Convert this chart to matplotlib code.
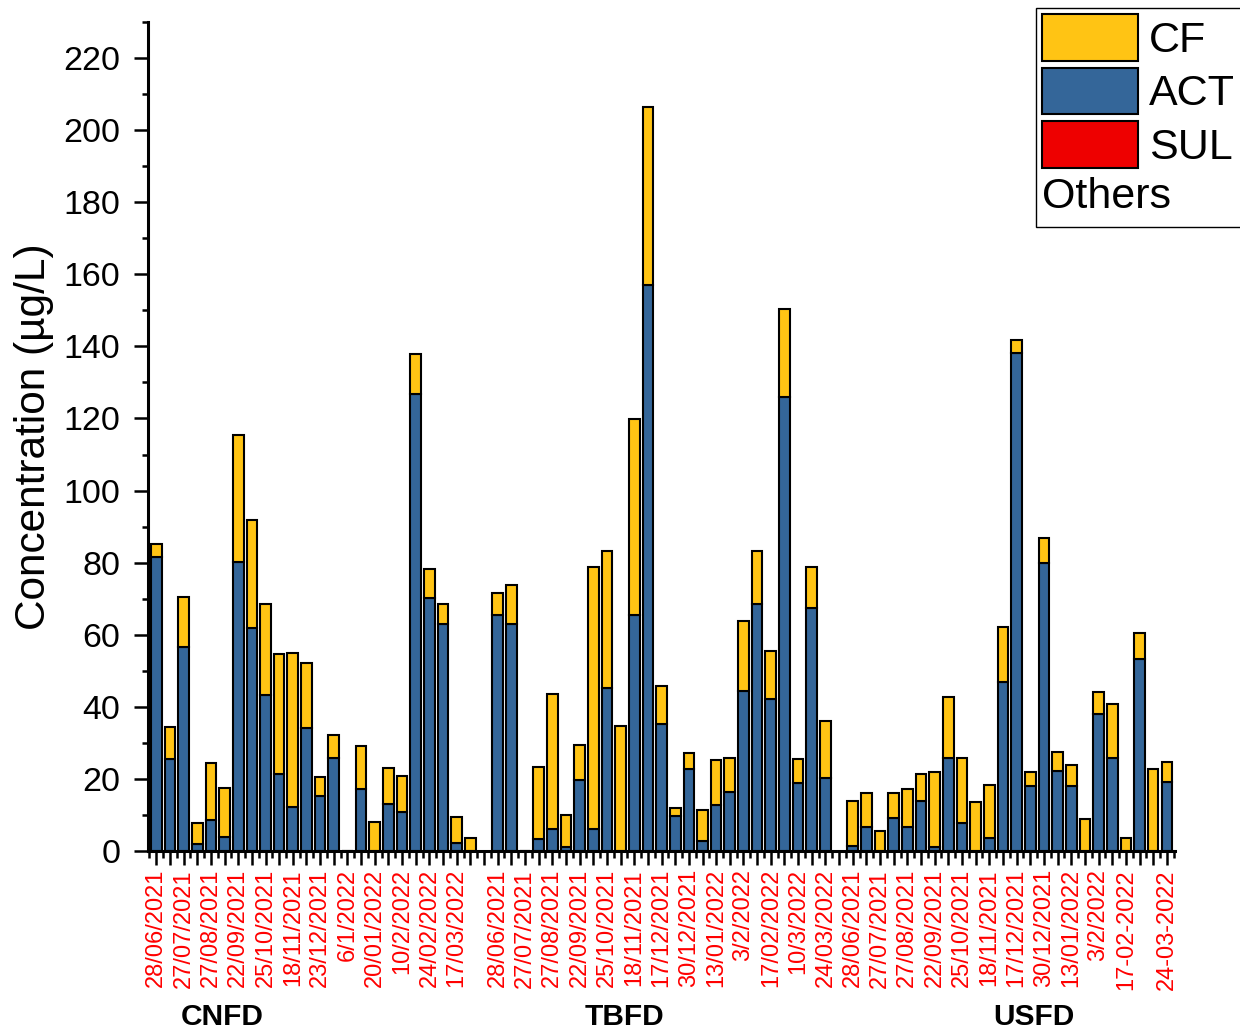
import numpy as np
import matplotlib
matplotlib.use("Agg")
import matplotlib.pyplot as plt
from matplotlib.patches import Patch
from matplotlib.legend_handler import HandlerBase
from matplotlib.text import Text
from matplotlib.ticker import MultipleLocator
from matplotlib.transforms import blended_transform_factory

plt.rcParams["font.family"] = ["Liberation Sans", "DejaVu Sans"]

# --- data (µg/L) ---
groups = ["CNFD", "TBFD", "USFD"]

cnfd_act = [81.7, 25.5, 56.5, 1.8, 8.6, 4.0, 80.2, 61.9, 43.2, 21.4, 12.1, 34.1,
            15.3, 25.7, 0.0, 17.2, 0.0, 12.9, 10.7, 126.9, 70.2, 63.0, 2.3, 0.0]
cnfd_cf = [3.6, 9.0, 13.9, 6.1, 15.7, 13.6, 35.2, 29.8, 25.2, 33.3, 42.8, 18.0,
           5.3, 6.5, 0.0, 11.8, 8.1, 10.0, 10.2, 10.9, 8.1, 5.6, 7.2, 3.5]

tbfd_act = [65.5, 62.9, 0.0, 3.4, 6.0, 1.1, 19.6, 6.0, 45.3, 0.0, 65.5, 156.9,
            35.2, 9.8, 22.8, 2.9, 12.8, 16.4, 44.3, 68.5, 42.3, 125.9, 18.8, 67.5, 20.2]
tbfd_cf = [6.0, 10.9, 0.0, 19.8, 37.5, 9.0, 9.7, 72.8, 37.8, 34.6, 54.3, 49.5,
           10.5, 2.2, 4.5, 8.4, 12.4, 9.4, 19.4, 14.6, 13.2, 24.5, 6.6, 11.3, 15.9]

usfd_act = [1.3, 6.7, 0.0, 9.2, 6.6, 13.9, 1.1, 25.8, 7.9, 0.0, 3.5, 46.9,
            138.1, 18.0, 79.9, 22.2, 18.1, 0.0, 38.0, 25.7, 0.0, 53.4, 0.0, 19.2]
usfd_cf = [12.6, 9.3, 5.6, 6.9, 10.6, 7.4, 20.8, 16.8, 17.8, 13.7, 14.7, 15.2,
           3.6, 3.9, 6.8, 5.4, 5.7, 8.9, 6.2, 15.2, 3.5, 7.0, 22.7, 5.5]

# sampling dates shown under the bars (index in group -> label)
cnfd_dates = {0: "28/06/2021", 2: "27/07/2021", 4: "27/08/2021", 6: "22/09/2021",
              8: "25/10/2021", 10: "18/11/2021", 12: "23/12/2021", 14: "6/1/2022",
              16: "20/01/2022", 18: "10/2/2022", 20: "24/02/2022", 22: "17/03/2022"}
tbfd_dates = {0: "28/06/2021", 2: "27/07/2021", 4: "27/08/2021", 6: "22/09/2021",
              8: "25/10/2021", 10: "18/11/2021", 12: "17/12/2021", 14: "30/12/2021",
              16: "13/01/2022", 18: "3/2/2022", 20: "17/02/2022", 22: "10/3/2022",
              24: "24/03/2022"}
usfd_dates = {0: "28/06/2021", 2: "27/07/2021", 4: "27/08/2021", 6: "22/09/2021",
              8: "25/10/2021", 10: "18/11/2021", 12: "17/12/2021", 14: "30/12/2021",
              16: "13/01/2022", 18: "3/2/2022", 20: "17-02-2022", 23: "24-03-2022"}

# position of the group name under the axis (in bar slots)
group_label_x = [4.8, 34.3, 64.3]

COLOR_CF = "#FFC414"
COLOR_ACT = "#346699"
COLOR_SUL = "#EE0000"


class TextHandle:
    def __init__(self, text):
        self.text = text


class HandlerTextOnly(HandlerBase):
    def create_artists(self, legend, orig_handle, xdescent, ydescent,
                       width, height, fontsize, trans):
        t = Text(-xdescent, -ydescent + height / 2, orig_handle.text,
                 fontsize=fontsize, va="center", ha="left", transform=trans)
        return [t]


def build_slots():
    acts, cfs = [], []
    x, tick_x, tick_labels = [], [], []
    pos = 0
    for act, cf, date_map in [(cnfd_act, cnfd_cf, cnfd_dates),
                              (tbfd_act, tbfd_cf, tbfd_dates),
                              (usfd_act, usfd_cf, usfd_dates)]:
        for i in range(len(act)):
            x.append(pos)
            acts.append(act[i])
            cfs.append(cf[i])
            tick_x.append(pos)
            tick_labels.append(date_map.get(i, ""))
            pos += 1
        # empty slot between groups
        tick_x.append(pos)
        tick_labels.append("")
        pos += 1
    return np.array(x), np.array(acts), np.array(cfs), tick_x[:-1], tick_labels[:-1]


def main():
    x, act, cf, tick_x, tick_labels = build_slots()

    fig = plt.figure(figsize=(12.4, 10.32), dpi=100)
    ax = fig.add_axes([0.1194, 0.1754, 0.8282, 0.8033])

    ax.bar(x, act, width=0.78, color=COLOR_ACT, edgecolor="black", linewidth=1.5)
    ax.bar(x, cf, width=0.78, bottom=act, color=COLOR_CF, edgecolor="black", linewidth=1.5)

    ax.set_xlim(-0.6, x.max() + 0.6)
    ax.set_ylim(0, 230)

    ax.spines["top"].set_visible(False)
    ax.spines["right"].set_visible(False)
    ax.spines["left"].set_linewidth(2.2)
    ax.spines["bottom"].set_linewidth(2.2)

    ax.yaxis.set_major_locator(MultipleLocator(20))
    ax.yaxis.set_minor_locator(MultipleLocator(10))
    ax.tick_params(axis="y", which="major", length=10, width=1.8, labelsize=24.5, pad=10)
    ax.tick_params(axis="y", which="minor", length=4, width=1.8)

    ax.set_xticks(tick_x)
    ax.set_xticklabels(tick_labels, rotation=90, color="red", fontsize=17)
    ax.set_xticks(np.arange(-0.5, x.max() + 1, 1.0), minor=True)
    ax.tick_params(axis="x", which="major", length=10, width=1.8, pad=3)
    ax.tick_params(axis="x", which="minor", length=5, width=1.8)

    ax.set_ylabel("Concentration (µg/L)", fontsize=30.5)
    ax.yaxis.set_label_coords(-0.092, 0.5)

    trans = blended_transform_factory(ax.transData, fig.transFigure)
    for name, gx in zip(groups, group_label_x):
        ax.text(gx, 0.0145, name, transform=trans, ha="center", va="center",
                fontsize=21.5, fontweight="bold")

    handles = [Patch(facecolor=COLOR_CF, edgecolor="black", linewidth=1.5),
               Patch(facecolor=COLOR_ACT, edgecolor="black", linewidth=1.5),
               Patch(facecolor=COLOR_SUL, edgecolor="black", linewidth=1.5),
               TextHandle("Others")]
    labels = ["CF", "ACT", "SUL", ""]
    leg = ax.legend(handles, labels, handler_map={TextHandle: HandlerTextOnly()},
                    loc="upper left", bbox_to_anchor=(1036 / 1240, 1 - 8 / 1032),
                    bbox_transform=fig.transFigure, borderaxespad=0, borderpad=0.15,
                    fontsize=31, handlelength=2.23, handleheight=1.29,
                    handletextpad=0.25, labelspacing=0.15, fancybox=False,
                    framealpha=1, edgecolor="black")
    leg.get_frame().set_linewidth(1.0)

    fig.savefig("out.png", dpi=100)
    plt.close(fig)


if __name__ == "__main__":
    main()
